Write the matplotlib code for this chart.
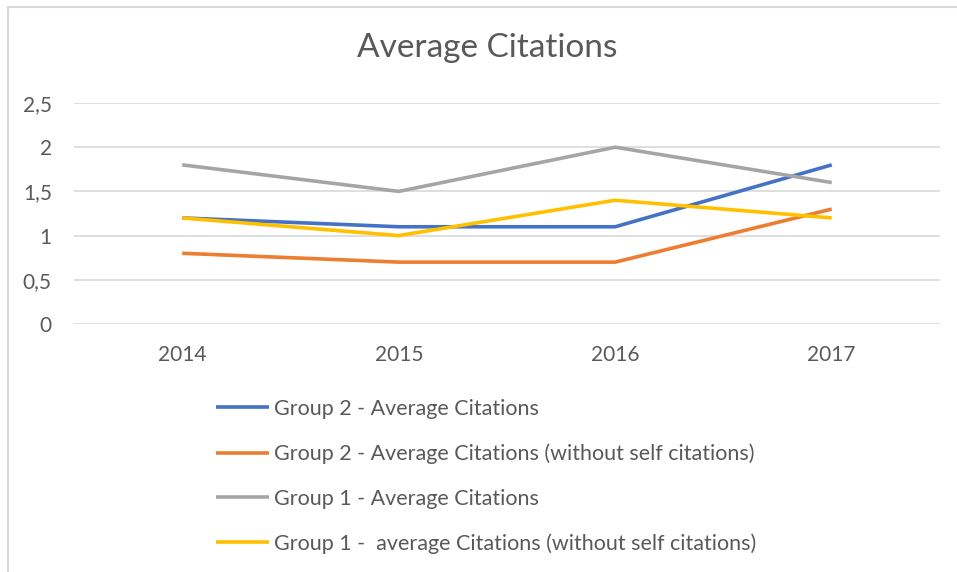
import matplotlib
matplotlib.use("Agg")
import matplotlib.pyplot as plt
from matplotlib.patches import Rectangle
from matplotlib.ticker import FuncFormatter

years = ["2014", "2015", "2016", "2017"]
g2_avg = [1.2, 1.1, 1.1, 1.8]
g2_noself = [0.8, 0.7, 0.7, 1.3]
g1_avg = [1.8, 1.5, 2.0, 1.6]
g1_noself = [1.2, 1.0, 1.4, 1.2]
labels = [
    "Group 2 - Average Citations",
    "Group 2 - Average Citations (without self citations)",
    "Group 1 - Average Citations",
    "Group 1 -  average Citations (without self citations)",
]
colors = ["#4472C4", "#ED7D31", "#A5A5A5", "#FFC000"]
yticks = [0, 0.5, 1, 1.5, 2, 2.5]

plt.rcParams['font.family'] = ['Lato', 'DejaVu Sans']
txt = "#595959"

fig = plt.figure(figsize=(9.57, 5.72), dpi=100)
fig.patches.append(Rectangle((8/957, -0.1), 1.1, 1 - 7/572 + 0.1, transform=fig.transFigure,
                             fill=False, edgecolor="#D9D9D9", linewidth=1.5))
ax = fig.add_axes([74/957, 1 - 324/572, (940 - 74)/957, (324 - 103)/572])

x = list(range(len(years)))
for series, c, lab in zip([g2_avg, g2_noself, g1_avg, g1_noself], colors, labels):
    ax.plot(x, series, color=c, linewidth=2.6, label=lab, solid_capstyle='butt')

ax.set_xlim(-0.5, len(years) - 0.5)
ax.set_ylim(0, 2.5)
ax.set_yticks(yticks)
ax.yaxis.set_major_formatter(FuncFormatter(lambda v, p: (f"{v:g}").replace(".", ",")))
ax.set_xticks(x)
ax.set_xticklabels(years)
ax.grid(axis='y', color="#D9D9D9", linewidth=1.2)
ax.set_axisbelow(True)
for s in ax.spines.values():
    s.set_visible(False)
ax.tick_params(length=0, colors=txt, labelsize=15)
ax.tick_params(axis='x', pad=15)
ax.tick_params(axis='y', pad=16)

fig.text(487/957, 1 - 48/572, "Average Citations", ha='center', va='center', fontsize=24, color=txt)

leg = fig.legend(loc='upper left', bbox_to_anchor=(216/957, 1 - 399/572), frameon=False,
                 fontsize=15.5, labelcolor=txt, handlelength=2.45, handletextpad=0.25,
                 labelspacing=1.14, borderaxespad=0, borderpad=0)

fig.savefig("out.png", dpi=100)
